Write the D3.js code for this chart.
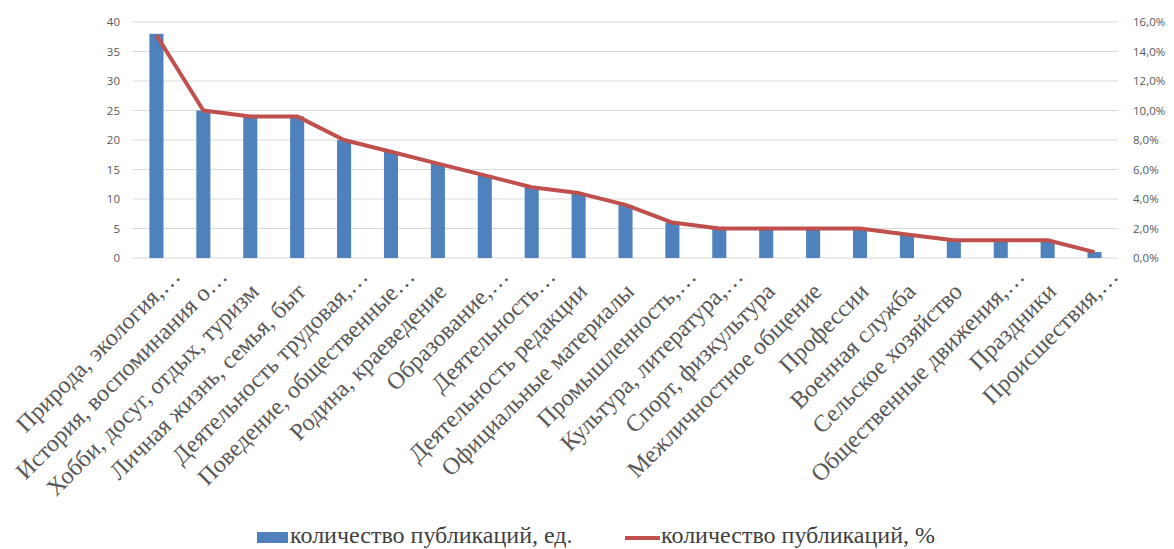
<!DOCTYPE html>
<html>
<head>
<meta charset="utf-8">
<script src="https://cdn.jsdelivr.net/npm/d3@7"></script>
<style>
  body { margin: 0; background: #fff; }
  .tick text { font-family: "Open Sans", sans-serif; font-size: 11.5px; fill: #595959; }
</style>
</head>
<body>
<div class="chart"></div>
<script>
// categories (as cut off on the original chart)
const categories = [
  "Природа, экология,…",
  "История, воспоминания о…",
  "Хобби, досуг, отдых, туризм",
  "Личная жизнь, семья, быт",
  "Деятельность трудовая,…",
  "Поведение, общественные…",
  "Родина, краеведение",
  "Образование,…",
  "Деятельность…",
  "Деятельность редакции",
  "Официальные материалы",
  "Промышленность,…",
  "Культура, литература,…",
  "Спорт, физкультура",
  "Межличностное общение",
  "Профессии",
  "Военная служба",
  "Сельское хозяйство",
  "Общественные движения,…",
  "Праздники",
  "Происшествия,…"
];

// количество публикаций, ед.
const counts = [38, 25, 24, 24, 20, 18, 16, 14, 12, 11, 9, 6, 5, 5, 5, 5, 4, 3, 3, 3, 1];

// количество публикаций, %
const percents = [15.1, 10.0, 9.6, 9.6, 8.0, 7.2, 6.4, 5.6, 4.8, 4.4, 3.6, 2.4, 2.0, 2.0, 2.0, 2.0, 1.6, 1.2, 1.2, 1.2, 0.4];

const leftTicks = [0, 5, 10, 15, 20, 25, 30, 35, 40];
const rightTicks = [0, 2, 4, 6, 8, 10, 12, 14, 16];
const legendLabels = ["количество публикаций, ед.", "количество публикаций, %"];

const W = 1174, H = 549;
const margin = {top: 22, right: 56, bottom: 291, left: 133};
const width = W - margin.left - margin.right,
      height = H - margin.top - margin.bottom;

const blue = "#4f81bd", red = "#c0504d";
const serif = "'Liberation Serif', 'Times New Roman', serif";

const root = d3.select(".chart").append("svg")
    .attr("width", W)
    .attr("height", H);

const svg = root.append("g")
    .attr("transform", `translate(${margin.left},${margin.top})`);

// scales
const x = d3.scaleBand().domain(categories).range([0, width])
    .paddingInner(0.7).paddingOuter(0.35);
const yLeft = d3.scaleLinear().domain([0, 40]).range([height, 0]);
const yRight = d3.scaleLinear().domain([0, 16]).range([height, 0]);

// gridlines
svg.append("g")
    .selectAll("line")
    .data(leftTicks)
    .join("line")
    .attr("x1", 0).attr("x2", width)
    .attr("y1", d => yLeft(d)).attr("y2", d => yLeft(d))
    .attr("stroke", "#d9d9d9")
    .attr("stroke-width", 1.2);

// axes
const leftAxis = svg.append("g")
    .call(d3.axisLeft(yLeft).tickValues(leftTicks).tickSize(0).tickPadding(13));
leftAxis.select(".domain").remove();

const rightAxis = svg.append("g")
    .attr("transform", `translate(${width},0)`)
    .call(d3.axisRight(yRight).tickValues(rightTicks).tickSize(0).tickPadding(15)
        .tickFormat(d => d3.format(".1f")(d).replace(".", ",") + "%"));
rightAxis.select(".domain").remove();

// bars
svg.append("g")
    .selectAll("rect")
    .data(counts)
    .join("rect")
    .attr("x", (d, i) => x(categories[i]))
    .attr("y", d => yLeft(d))
    .attr("width", x.bandwidth())
    .attr("height", d => height - yLeft(d))
    .attr("fill", blue);

// percent line
const line = d3.line()
    .x((d, i) => x(categories[i]) + x.bandwidth() / 2)
    .y(d => yRight(d));

svg.append("path")
    .datum(percents)
    .attr("d", line)
    .attr("fill", "none")
    .attr("stroke", red)
    .attr("stroke-width", 4)
    .attr("stroke-linejoin", "round");

// category labels, rotated
svg.append("g")
    .selectAll("text")
    .data(categories)
    .join("text")
    .attr("font-family", serif)
    .attr("font-size", 24)
    .attr("fill", "#595959")
    .attr("text-anchor", "end")
    .attr("transform", d => `translate(${x(d) + x.bandwidth() / 2 + 10},${height + 35}) rotate(-45)`)
    .attr("dx", d => d.endsWith("…") ? "0.9em" : 0)
    .text(d => d);

// legend
const legend = root.append("g");
legend.append("rect")
    .attr("x", 257).attr("y", 532)
    .attr("width", 31).attr("height", 11)
    .attr("fill", blue);
legend.append("line")
    .attr("x1", 625).attr("x2", 660)
    .attr("y1", 538).attr("y2", 538)
    .attr("stroke", red).attr("stroke-width", 4);
legend.selectAll("text")
    .data(legendLabels)
    .join("text")
    .attr("x", (d, i) => i === 0 ? 290 : 661)
    .attr("y", 543)
    .attr("font-family", serif)
    .attr("font-size", 24)
    .attr("fill", "#404040")
    .text(d => d);
</script>
</body>
</html>
